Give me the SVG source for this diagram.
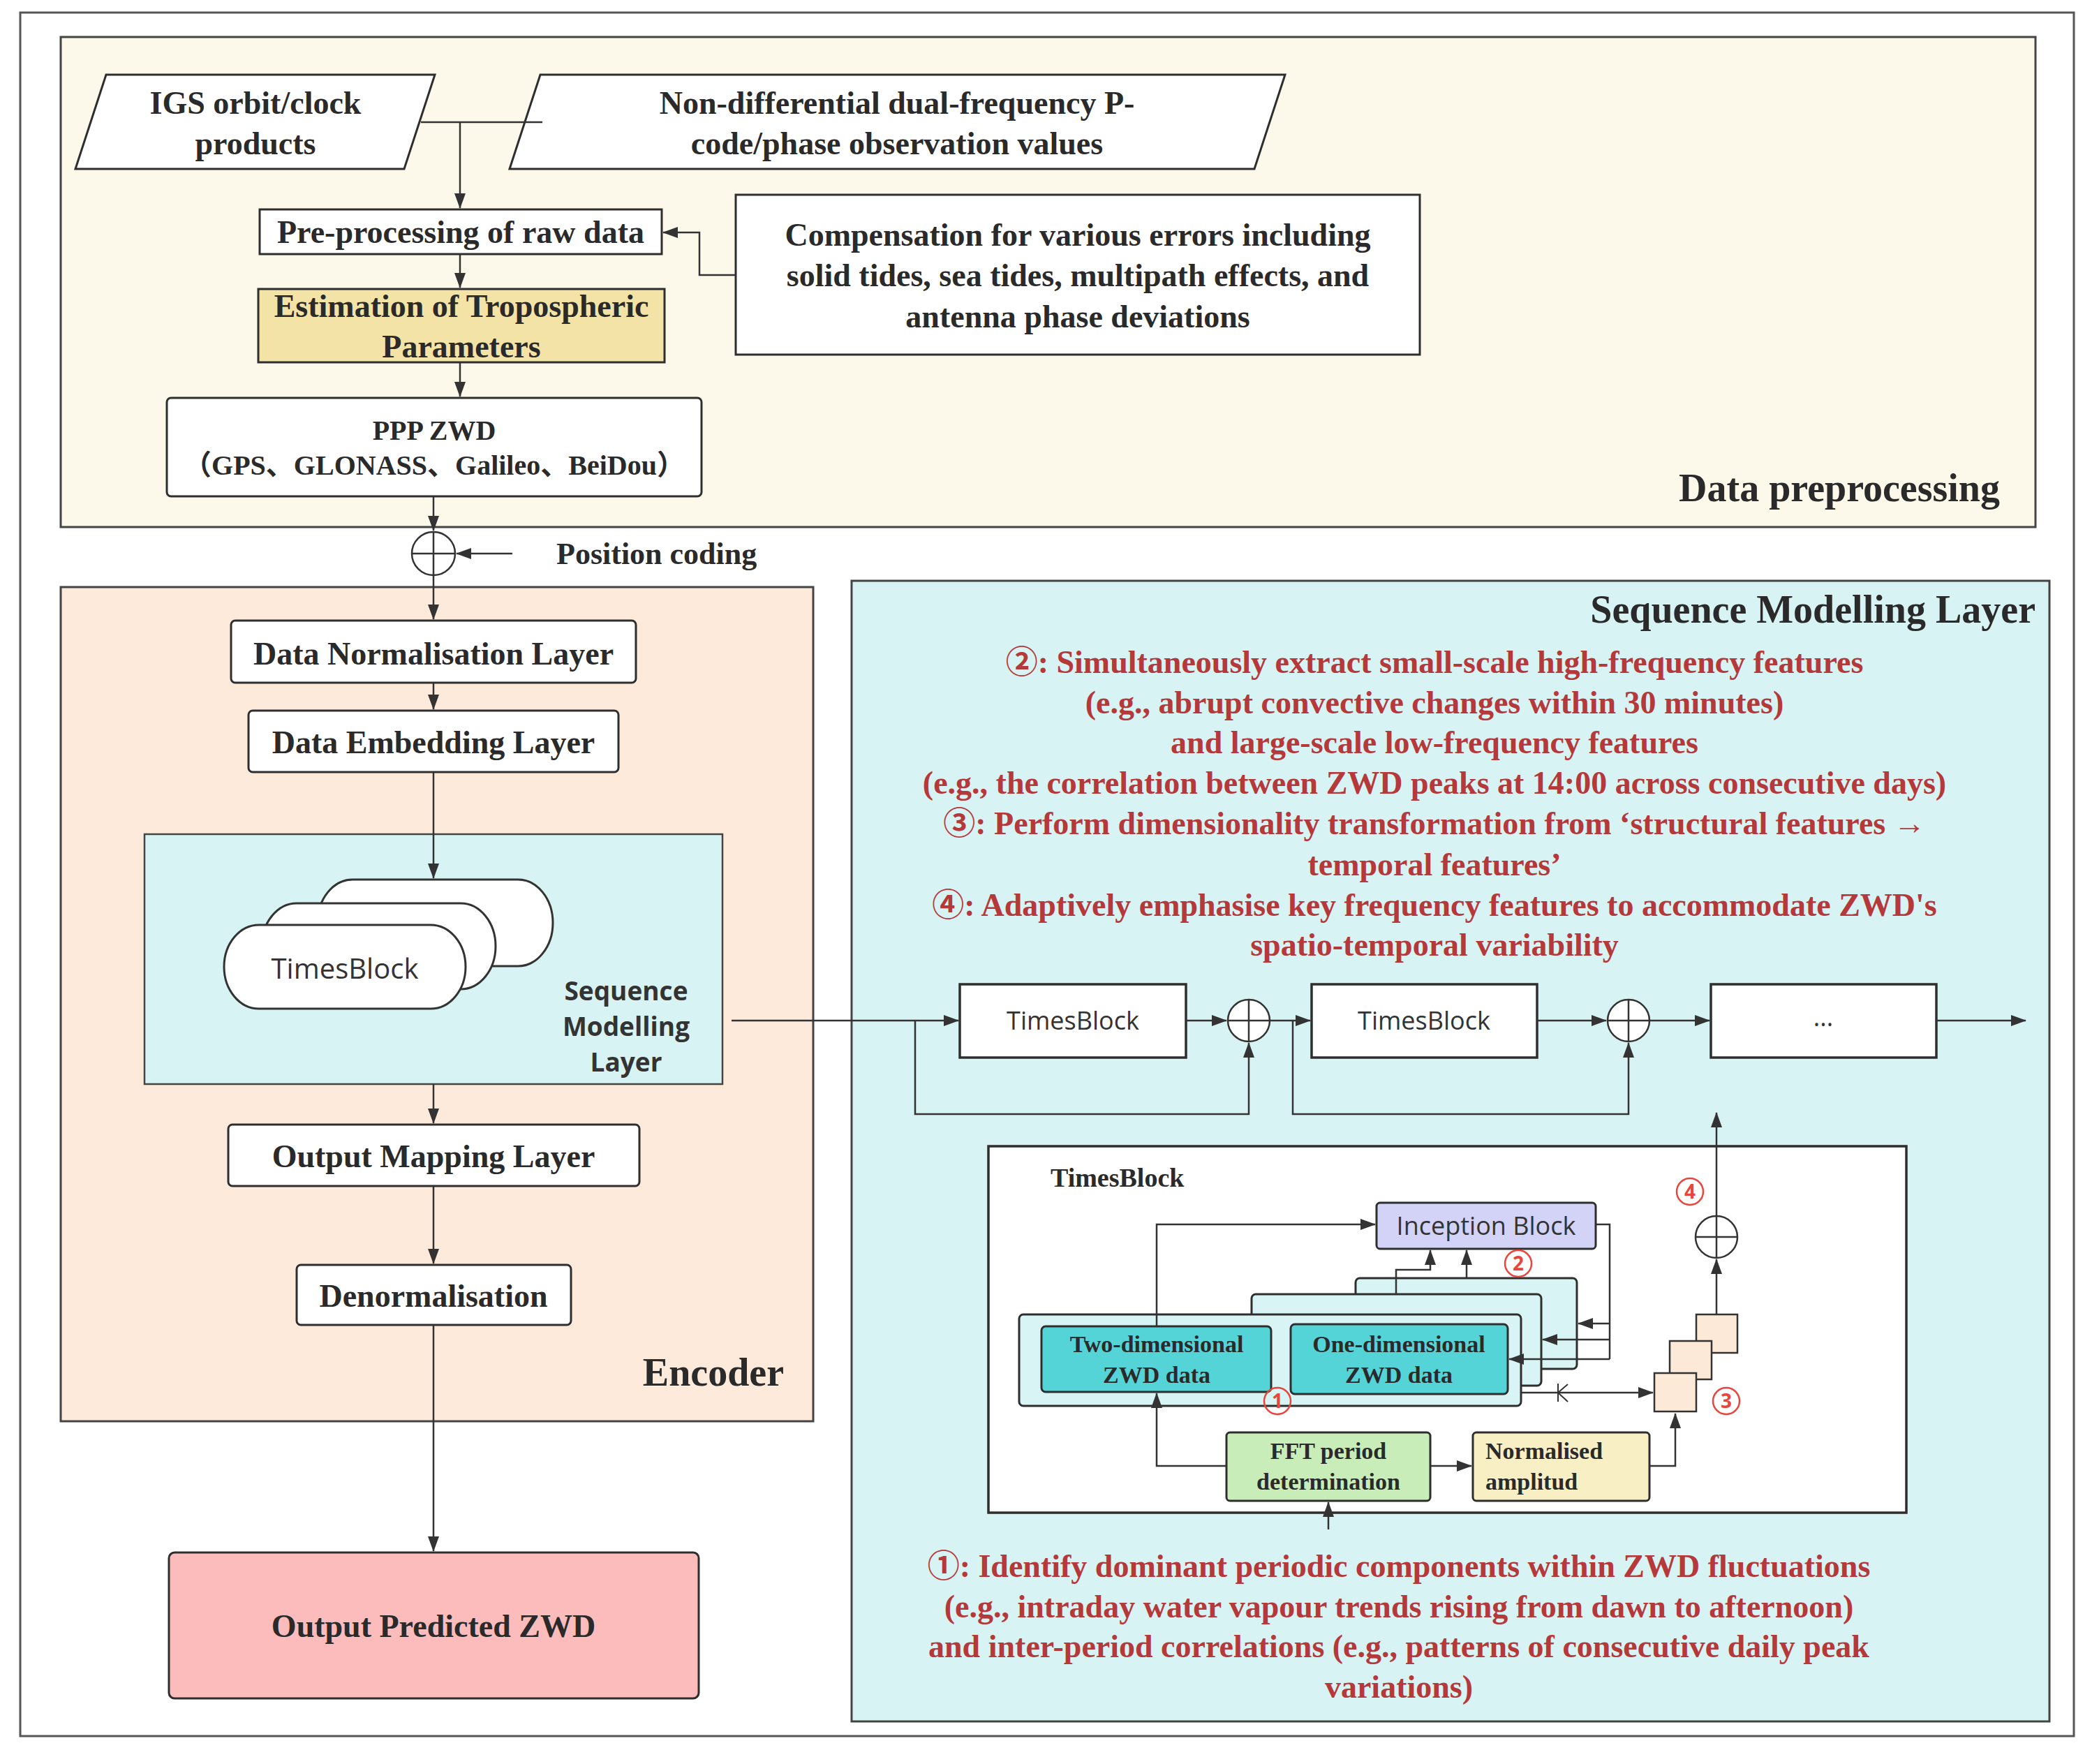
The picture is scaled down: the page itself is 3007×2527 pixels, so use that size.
<svg xmlns="http://www.w3.org/2000/svg" width="3007" height="2527" viewBox="0 0 3007 2527">
<defs>
<marker id="ah" markerUnits="userSpaceOnUse" markerWidth="22" markerHeight="16" refX="21" refY="8" orient="auto"><path d="M0,0 L22,8 L0,16 z" fill="#333"/></marker>
<style>
.t{font-family:"Liberation Serif","Noto Sans CJK SC",serif;font-weight:bold;fill:#2a2a2a;text-anchor:middle}
.f46{font-size:46px}
.f54{font-size:56px}
.f34{font-size:34px}
.red{fill:#b5383a}
.sans{font-family:"Open Sans","Noto Sans",sans-serif;font-weight:normal;fill:#333;text-anchor:middle}
.box{stroke:#2e2e2e;stroke-width:3}
.ln{fill:none;stroke:#333;stroke-width:2.5}
.arr{fill:none;stroke:#333;stroke-width:2.5;marker-end:url(#ah)}
.num{fill:none;stroke:#e8453c;stroke-width:2.5}
.numt{font-family:"Open Sans","Noto Sans",sans-serif;font-size:28px;fill:#e8453c;text-anchor:middle;font-weight:bold}
</style>
</defs>
<rect width="3007" height="2527" fill="#ffffff"/>
<rect x="29" y="18" width="2942" height="2469" fill="none" stroke="#555" stroke-width="3"/>

<g id="data-preprocessing">
<rect x="87" y="53" width="2829" height="702" fill="#fdf9ea" stroke="#444" stroke-width="3"/>
<text class="t f54" x="2865" y="718" style="text-anchor:end">Data preprocessing</text>
</g>
<g id="encoder">
<rect x="87" y="841" width="1078" height="1195" fill="#fdeadb" stroke="#444" stroke-width="3"/>
<text class="t f54" x="1123" y="1985" style="text-anchor:end">Encoder</text>
</g>
<g id="sequence-modelling-layer">
<rect x="1220" y="832" width="1716" height="1634" fill="#d8f3f3" stroke="#444" stroke-width="3"/>
<text class="t f54" x="2916" y="892" style="text-anchor:end">Sequence Modelling Layer</text>
<text class="t f46 red" x="2055" y="964">②: Simultaneously extract small-scale high-frequency features</text>
<text class="t f46 red" x="2055" y="1022">(e.g., abrupt convective changes within 30 minutes)</text>
<text class="t f46 red" x="2055" y="1079">and large-scale low-frequency features</text>
<text class="t f46 red" x="2055" y="1137">(e.g., the correlation between ZWD peaks at 14:00 across consecutive days)</text>
<text class="t f46 red" x="2055" y="1195">③: Perform dimensionality transformation from ‘structural features →</text>
<text class="t f46 red" x="2055" y="1254">temporal features’</text>
<text class="t f46 red" x="2055" y="1312">④: Adaptively emphasise key frequency features to accommodate ZWD's</text>
<text class="t f46 red" x="2055" y="1369">spatio-temporal variability</text>
<text class="t f46 red" x="2004" y="2259">①: Identify dominant periodic components within ZWD fluctuations</text>
<text class="t f46 red" x="2004" y="2317">(e.g., intraday water vapour trends rising from dawn to afternoon)</text>
<text class="t f46 red" x="2004" y="2374">and inter-period correlations (e.g., patterns of consecutive daily peak</text>
<text class="t f46 red" x="2004" y="2432">variations)</text>
</g>

<g id="igs">
<polygon points="152,107 623,107 579,242 108,242" fill="#fff" class="box"/>
<text class="t f46" x="366" y="163">IGS orbit/clock</text>
<text class="t f46" x="366" y="221">products</text>
</g>
<g id="non-differential">
<polygon points="774,107 1841,107 1797,242 730,242" fill="#fff" class="box"/>
<text class="t f46" x="1285" y="163">Non-differential dual-frequency P-</text>
<text class="t f46" x="1285" y="221">code/phase observation values</text>
</g>
<g id="pre-processing">
<rect x="372" y="300" width="576" height="64" fill="#fff" class="box"/>
<text class="t f46" x="660" y="348">Pre-processing of raw data</text>
</g>
<g id="compensation">
<rect x="1054" y="279" width="980" height="229" fill="#fff" class="box"/>
<text class="t f46" x="1544" y="352">Compensation for various errors including</text>
<text class="t f46" x="1544" y="410">solid tides, sea tides, multipath effects, and</text>
<text class="t f46" x="1544" y="469">antenna phase deviations</text>
</g>
<g id="estimation">
<rect x="370" y="414" width="582" height="105" fill="#f3e3a6" class="box"/>
<text class="t f46" x="661" y="454">Estimation of Tropospheric</text>
<text class="t f46" x="661" y="512">Parameters</text>
</g>
<g id="ppp-zwd">
<rect x="239" y="570" width="766" height="141" rx="6" fill="#fff" class="box"/>
<text class="t" style="font-size:40px" x="622" y="630">PPP ZWD</text>
<text class="t" style="font-size:40px" x="622" y="680">（GPS、GLONASS、Galileo、BeiDou）</text>
</g>
<g id="position-coding">
<circle cx="621" cy="793" r="31" fill="#fff" stroke="#333" stroke-width="2.5"/>
<path d="M590,793 H652 M621,762 V824" class="ln"/>
<text class="t" style="font-size:44px;text-anchor:start" x="797" y="808">Position coding</text>
</g>
<g id="data-normalisation">
<rect x="331" y="889" width="580" height="89" rx="6" fill="#fff" class="box"/>
<text class="t f46" x="621" y="952">Data Normalisation Layer</text>
</g>
<g id="data-embedding">
<rect x="356" y="1018" width="530" height="88" rx="6" fill="#fff" class="box"/>
<text class="t f46" x="621" y="1079">Data Embedding Layer</text>
</g>
<g id="encoder-sequence-modelling">
<rect x="207" y="1195" width="828" height="358" fill="#d8f3f3" stroke="#444" stroke-width="2.5"/>
<path d="M505,1260 H742 A50,62 0 0 1 742,1384 H505 A50,62 0 0 1 505,1260 Z" fill="#fff" stroke="#333" stroke-width="3"/>
<path d="M425,1294 H660 A50,61.5 0 0 1 660,1417 H425 A50,61.5 0 0 1 425,1294 Z" fill="#fff" stroke="#333" stroke-width="3"/>
<path d="M371,1325 H617 A50,60 0 0 1 617,1445 H371 A50,60 0 0 1 371,1325 Z" fill="#fff" stroke="#333" stroke-width="3"/>
<text class="sans" style="font-size:40px" x="494" y="1402">TimesBlock</text>
<text class="sans" style="font-size:37px;font-weight:bold" x="897" y="1433">Sequence</text>
<text class="sans" style="font-size:37px;font-weight:bold" x="897" y="1484">Modelling</text>
<text class="sans" style="font-size:37px;font-weight:bold" x="897" y="1535">Layer</text>
</g>
<g id="output-mapping">
<rect x="327" y="1611" width="589" height="88" rx="6" fill="#fff" class="box"/>
<text class="t f46" x="621" y="1672">Output Mapping Layer</text>
</g>
<g id="denormalisation">
<rect x="425" y="1812" width="393" height="86" rx="6" fill="#fff" class="box"/>
<text class="t f46" x="621" y="1872">Denormalisation</text>
</g>
<g id="output-predicted">
<rect x="242" y="2224" width="759" height="209" rx="8" fill="#fbbcbb" class="box"/>
<text class="t f46" x="621" y="2345">Output Predicted ZWD</text>
</g>

<g id="timesblock-1">
<rect x="1375" y="1410" width="324" height="105" fill="#fff" stroke="#2e2e2e" stroke-width="3.5"/>
<text class="sans" style="font-size:36px" x="1537" y="1475">TimesBlock</text>
</g>
<g id="add-1">
<circle cx="1789" cy="1462" r="30" fill="#fff" stroke="#333" stroke-width="2.5"/>
<path d="M1759,1462 H1819 M1789,1432 V1492" class="ln"/>
</g>
<g id="timesblock-2">
<rect x="1879" y="1410" width="323" height="105" fill="#fff" stroke="#2e2e2e" stroke-width="3.5"/>
<text class="sans" style="font-size:36px" x="2040" y="1475">TimesBlock</text>
</g>
<g id="add-2">
<circle cx="2333" cy="1462" r="30" fill="#fff" stroke="#333" stroke-width="2.5"/>
<path d="M2303,1462 H2363 M2333,1432 V1492" class="ln"/>
</g>
<g id="timesblock-more">
<rect x="2451" y="1410" width="323" height="105" fill="#fff" stroke="#2e2e2e" stroke-width="3.5"/>
<text class="sans" style="font-size:36px" x="2612" y="1470">...</text>
</g>

<g id="timesblock-detail">
<rect x="1416" y="1642" width="1315" height="525" fill="#fff" stroke="#2e2e2e" stroke-width="3.5"/>
<text class="t" style="font-size:38px;text-anchor:start" x="1505" y="1700">TimesBlock</text>
</g>
<g id="inception-block">
<rect x="1972" y="1723" width="314" height="66" rx="5" fill="#d3d3f7" class="box"/>
<text class="sans" style="font-size:36px" x="2129" y="1769">Inception Block</text>
</g>
<g id="zwd-stack">
<rect x="1942" y="1831" width="317" height="130" rx="6" fill="#d8f4f4" class="box"/>
<rect x="1793" y="1854" width="415" height="131" rx="6" fill="#d8f4f4" class="box"/>
<rect x="1460" y="1883" width="719" height="131" rx="6" fill="#d8f4f4" class="box"/>
</g>
<g id="two-dimensional">
<rect x="1492" y="1900" width="329" height="94" rx="6" fill="#55d4d8" class="box"/>
<text class="t f34" x="1657" y="1937">Two-dimensional</text>
<text class="t f34" x="1657" y="1981">ZWD data</text>
</g>
<g id="one-dimensional">
<rect x="1849" y="1897" width="311" height="100" rx="6" fill="#55d4d8" class="box"/>
<text class="t f34" x="2004" y="1937">One-dimensional</text>
<text class="t f34" x="2004" y="1981">ZWD data</text>
</g>
<g id="fft">
<rect x="1757" y="2052" width="292" height="98" rx="5" fill="#c8edb9" class="box"/>
<text class="t f34" x="1903" y="2090">FFT period</text>
<text class="t f34" x="1903" y="2134">determination</text>
</g>
<g id="normalised-amplitude">
<rect x="2110" y="2052" width="253" height="98" rx="5" fill="#f8efc5" class="box"/>
<text class="t f34" style="text-anchor:start" x="2128" y="2090">Normalised</text>
<text class="t f34" style="text-anchor:start" x="2128" y="2134">amplitud</text>
</g>
<g id="weights">
<rect x="2430" y="1883" width="59" height="55" fill="#fde9d8" stroke="#333" stroke-width="2.5"/>
<rect x="2392" y="1921" width="60" height="55" fill="#fde9d8" stroke="#333" stroke-width="2.5"/>
<rect x="2370" y="1967" width="60" height="55" fill="#fde9d8" stroke="#333" stroke-width="2.5"/>
</g>
<g id="add-detail">
<circle cx="2459" cy="1772" r="30" fill="#fff" stroke="#333" stroke-width="2.5"/>
<path d="M2429,1772 H2489 M2459,1742 V1802" class="ln"/>
</g>
<g id="markers">
<circle cx="1830" cy="2007" r="19" class="num"/><text class="numt" x="1830" y="2017">1</text>
<circle cx="2175" cy="1810" r="19" class="num"/><text class="numt" x="2175" y="1820">2</text>
<circle cx="2473" cy="2007" r="19" class="num"/><text class="numt" x="2473" y="2017">3</text>
<circle cx="2421" cy="1707" r="19" class="num"/><text class="numt" x="2421" y="1717">4</text>
</g>

<g id="connectors">
<path d="M603,175 H777" class="ln"/>
<path d="M659,175 V298" class="arr"/>
<path d="M1054,394 H1002 V333 H950" class="arr"/>
<path d="M659,364 V412" class="arr"/>
<path d="M659,519 V568" class="arr"/>
<path d="M621,711 V760" class="arr"/>
<path d="M734,793 H654" class="arr"/>
<path d="M621,824 V887" class="arr"/>
<path d="M621,978 V1016" class="arr"/>
<path d="M621,1106 V1258" class="arr"/>
<path d="M621,1553 V1609" class="arr"/>
<path d="M621,1699 V1810" class="arr"/>
<path d="M621,1898 V2222" class="arr"/>
<path d="M1048,1462 H1373" class="arr"/>
<path d="M1311,1462 V1596 H1789 V1494" class="arr"/>
<path d="M1699,1462 H1757" class="arr"/>
<path d="M1820,1462 H1877" class="arr"/>
<path d="M1852,1462 V1596 H2333 V1494" class="arr"/>
<path d="M2202,1462 H2301" class="arr"/>
<path d="M2364,1462 H2449" class="arr"/>
<path d="M2774,1462 H2902" class="arr"/>
<path d="M1657,1900 V1754 H1970" class="arr"/>
<path d="M2286,1754 H2306 V1947" class="ln"/>
<path d="M2306,1896 H2261" class="arr"/>
<path d="M2306,1919 H2210" class="arr"/>
<path d="M2306,1947 H2162" class="arr"/>
<path d="M2000,1854 V1819 H2049 V1791" class="arr"/>
<path d="M2101,1831 V1791" class="arr"/>
<path d="M2179,1995 H2368" class="arr"/>
<path d="M2232,1982 V2008 M2232,1995 L2246,1983 M2232,1995 L2246,2008" class="ln" style="stroke-width:2"/>
<path d="M1757,2100 H1657 V1996" class="arr"/>
<path d="M2049,2100 H2108" class="arr"/>
<path d="M2363,2100 H2400 V2025" class="arr"/>
<path d="M1903,2191 V2152" class="arr"/>
<path d="M2459,1883 V1804" class="arr"/>
<path d="M2459,1742 V1594" class="arr"/>
</g>
</svg>
